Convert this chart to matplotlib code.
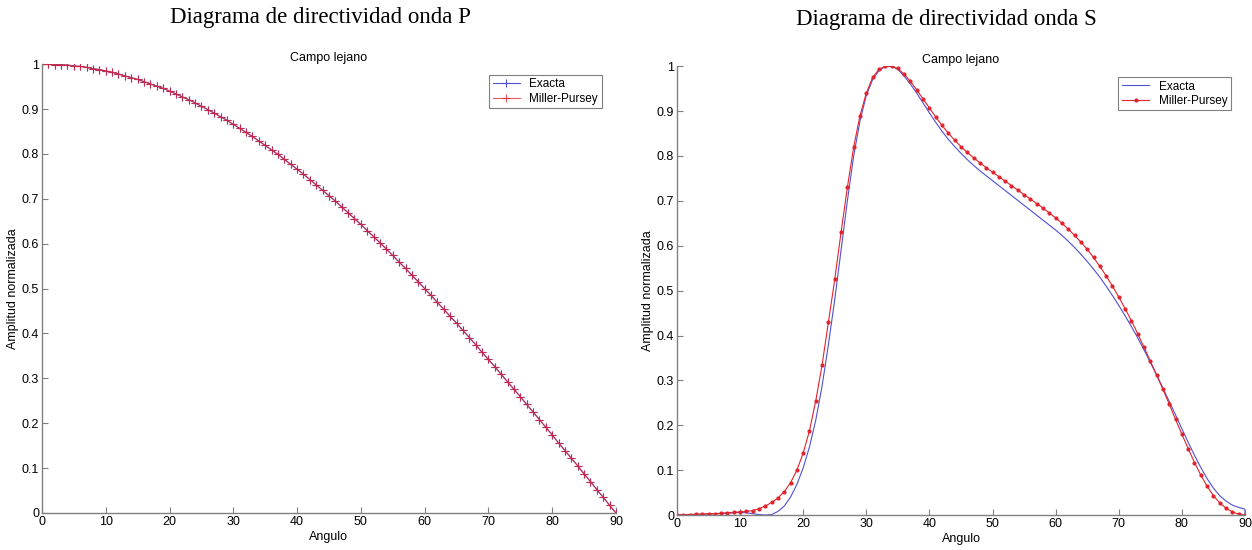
# Directivity diagrams for P and S waves in the far field:
# exact solution vs the Miller-Pursey approximation

import matplotlib
matplotlib.use("Agg")
import matplotlib.pyplot as plt

angles = list(range(0, 91))

# P wave - both solutions fall on top of each other
p_exacta = [
    1.000, 1.000, 0.999, 0.999, 0.998, 0.996, 0.995, 0.993, 0.990, 0.988,
    0.985, 0.982, 0.978, 0.974, 0.970, 0.966, 0.961, 0.956, 0.951, 0.946,
    0.940, 0.934, 0.927, 0.921, 0.914, 0.906, 0.899, 0.891, 0.883, 0.875,
    0.866, 0.857, 0.848, 0.839, 0.829, 0.819, 0.809, 0.799, 0.788, 0.777,
    0.766, 0.755, 0.743, 0.731, 0.719, 0.707, 0.695, 0.682, 0.669, 0.656,
    0.643, 0.629, 0.616, 0.602, 0.588, 0.574, 0.559, 0.545, 0.530, 0.515,
    0.500, 0.485, 0.469, 0.454, 0.438, 0.423, 0.407, 0.391, 0.375, 0.358,
    0.342, 0.326, 0.309, 0.292, 0.276, 0.259, 0.242, 0.225, 0.208, 0.191,
    0.174, 0.156, 0.139, 0.122, 0.105, 0.087, 0.070, 0.052, 0.035, 0.017,
    0.000,
]
p_miller = list(p_exacta)

# S wave, exact solution (last point closes the curve down to 0 at 90)
s_exacta_angles = angles + [90]
s_exacta = [
    0.000, 0.000, 0.001, 0.001, 0.002, 0.002, 0.003, 0.003, 0.004, 0.005,
    0.006, 0.005, 0.003, 0.001, 0.000, 0.001, 0.008, 0.020, 0.040, 0.068,
    0.105, 0.152, 0.212, 0.288, 0.380, 0.480, 0.590, 0.700, 0.800, 0.878,
    0.935, 0.970, 0.990, 0.999, 1.000, 0.993, 0.978, 0.960, 0.940, 0.918,
    0.896, 0.875, 0.855, 0.837, 0.821, 0.806, 0.792, 0.779, 0.767, 0.756,
    0.745, 0.734, 0.723, 0.712, 0.701, 0.690, 0.679, 0.668, 0.657, 0.646,
    0.635, 0.623, 0.610, 0.596, 0.581, 0.565, 0.548, 0.530, 0.510, 0.489,
    0.467, 0.444, 0.420, 0.395, 0.368, 0.340, 0.312, 0.283, 0.253, 0.223,
    0.192, 0.162, 0.133, 0.106, 0.081, 0.060, 0.043, 0.031, 0.022, 0.017,
    0.013, 0.000,
]

# S wave, Miller-Pursey
s_miller = [
    0.000, 0.001, 0.001, 0.002, 0.002, 0.003, 0.003, 0.004, 0.005, 0.006,
    0.007, 0.008, 0.010, 0.014, 0.020, 0.028, 0.038, 0.052, 0.072, 0.100,
    0.138, 0.188, 0.255, 0.335, 0.430, 0.525, 0.630, 0.730, 0.820, 0.890,
    0.940, 0.975, 0.993, 1.000, 1.000, 0.995, 0.982, 0.966, 0.947, 0.927,
    0.907, 0.887, 0.868, 0.851, 0.835, 0.821, 0.808, 0.796, 0.785, 0.774,
    0.764, 0.754, 0.744, 0.734, 0.724, 0.714, 0.704, 0.694, 0.684, 0.673,
    0.662, 0.650, 0.637, 0.623, 0.608, 0.592, 0.574, 0.554, 0.533, 0.510,
    0.486, 0.460, 0.433, 0.404, 0.374, 0.343, 0.312, 0.280, 0.247, 0.213,
    0.180, 0.148, 0.117, 0.089, 0.064, 0.043, 0.027, 0.015, 0.007, 0.002,
    0.000,
]

xticks = [0, 10, 20, 30, 40, 50, 60, 70, 80, 90]
yticks = [0, 0.1, 0.2, 0.3, 0.4, 0.5, 0.6, 0.7, 0.8, 0.9, 1]
ytick_labels = ["0", "0.1", "0.2", "0.3", "0.4", "0.5", "0.6", "0.7", "0.8", "0.9", "1"]

BLUE = "#5050d0"
RED = "#e0232d"
AXIS_GREY = "#808080"

plt.rcParams["font.family"] = ["Liberation Sans", "DejaVu Sans"]


def style_axes(ax):
    # matlab look: only left/bottom axis, ticks pointing in
    ax.set_xlim(0, 90)
    ax.set_ylim(0, 1)
    ax.set_xticks(xticks)
    ax.set_yticks(yticks)
    ax.set_yticklabels(ytick_labels)
    for side in ["top", "right"]:
        ax.spines[side].set_visible(False)
    for side in ["left", "bottom"]:
        ax.spines[side].set_color(AXIS_GREY)
        ax.spines[side].set_linewidth(1.0)
    ax.tick_params(direction="in", length=4, color=AXIS_GREY, labelsize=9, pad=2)
    ax.set_xlabel("Angulo", fontsize=9, labelpad=2)
    ax.set_ylabel("Amplitud normalizada", fontsize=9, labelpad=2)
    ax.set_title("Campo lejano", fontsize=9, pad=2)
    leg = ax.legend(loc="upper right", bbox_to_anchor=(0.975, 0.976), fontsize=8.5,
                    fancybox=False, edgecolor=AXIS_GREY, framealpha=1,
                    handlelength=2.3, borderpad=0.3, labelspacing=0.2,
                    borderaxespad=0.0)
    leg.get_frame().set_linewidth(0.8)


fig = plt.figure(figsize=(12.52, 5.5), dpi=100)

# --- left: P wave ---
ax1 = fig.add_axes([0.0335, 0.0673, 0.4585, 0.816])
ax1.plot(angles, p_exacta, color=BLUE, lw=0.8, marker="+", ms=6, mew=0.8, label="Exacta")
ax1.plot(angles, p_miller, color=RED, lw=0.8, marker="+", ms=6, mew=0.8, alpha=0.75,
         label="Miller-Pursey")
style_axes(ax1)

# --- right: S wave ---
ax2 = fig.add_axes([0.5407, 0.0636, 0.4537, 0.816])
ax2.plot(s_exacta_angles, s_exacta, color=BLUE, lw=0.8, label="Exacta")
ax2.plot(angles, s_miller, color=RED, lw=0.8, marker=".", ms=4, label="Miller-Pursey")
style_axes(ax2)

fig.text(0.256, 0.968, "Diagrama de directividad onda P", ha="center", va="center",
         fontsize=16.5, family="Liberation Serif")
fig.text(0.756, 0.965, "Diagrama de directividad onda S", ha="center", va="center",
         fontsize=16.5, family="Liberation Serif")

fig.savefig("out.png", dpi=100)
